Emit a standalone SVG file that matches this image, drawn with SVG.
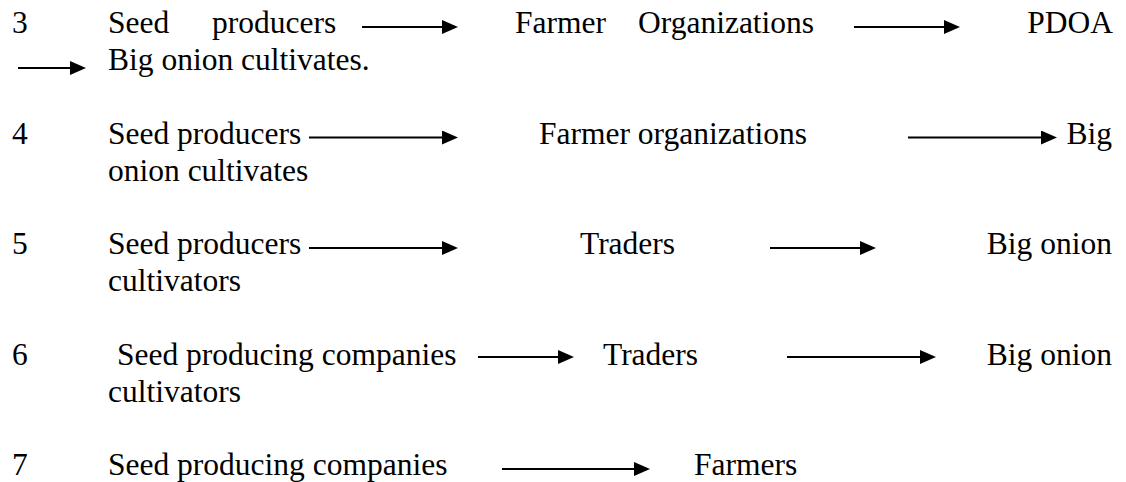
<svg xmlns="http://www.w3.org/2000/svg" width="1126" height="482" viewBox="0 0 1126 482">
  <style>
    .lbl text { font-family: 'Liberation Serif', 'Times New Roman', serif; font-size: 31.5px; fill: #000; }
    .end { text-anchor: end; }
    .conn line { stroke: #000; stroke-width: 2; marker-end: url(#head); }
  </style>
  <defs>
    <marker id="head" markerUnits="userSpaceOnUse" markerWidth="16" markerHeight="14" viewBox="0 0 16 14" refX="10" refY="7" orient="auto">
      <path d="M0,0 L16,7 L0,14 z" fill="#000"/>
    </marker>
  </defs>
  <rect width="1126" height="482" fill="#fff"/>

  <g class="lbl">
    <!-- Channel 3 -->
    <g id="n3-num"><text x="12" y="33">3</text></g>
    <g id="n3-seed"><text x="108" y="33">Seed</text><text x="212" y="33">producers</text></g>
    <g id="n3-fo"><text x="515" y="33">Farmer</text><text x="638" y="33">Organizations</text></g>
    <g id="n3-pdoa"><text class="end" x="1113" y="33">PDOA</text></g>
    <g id="n3-big"><text x="108" y="70">Big onion cultivates.</text></g>

    <!-- Channel 4 -->
    <g id="n4-num"><text x="12" y="143.5">4</text></g>
    <g id="n4-seed"><text x="108" y="143.5">Seed producers</text></g>
    <g id="n4-fo"><text x="539" y="143.5">Farmer organizations</text></g>
    <g id="n4-big"><text class="end" x="1112" y="143.5">Big</text><text x="108" y="180.5">onion cultivates</text></g>

    <!-- Channel 5 -->
    <g id="n5-num"><text x="12" y="254">5</text></g>
    <g id="n5-seed"><text x="108" y="254">Seed producers</text></g>
    <g id="n5-traders"><text x="580" y="254">Traders</text></g>
    <g id="n5-big"><text class="end" x="1112" y="254">Big onion</text><text x="108" y="291">cultivators</text></g>

    <!-- Channel 6 -->
    <g id="n6-num"><text x="12" y="364.5">6</text></g>
    <g id="n6-seed"><text x="117" y="364.5">Seed producing companies</text></g>
    <g id="n6-traders"><text x="603" y="364.5">Traders</text></g>
    <g id="n6-big"><text class="end" x="1112" y="364.5">Big onion</text><text x="108" y="401.5">cultivators</text></g>

    <!-- Channel 7 -->
    <g id="n7-num"><text x="12" y="475">7</text></g>
    <g id="n7-seed"><text x="108" y="475">Seed producing companies</text></g>
    <g id="n7-farmers"><text x="694" y="475">Farmers</text></g>
  </g>

  <!-- Flow arrows (line end sits 6px short of the arrow tip) -->
  <g id="connectors" class="conn">
    <line x1="362" y1="27" x2="452" y2="27"/>
    <line x1="854" y1="27" x2="954" y2="27"/>
    <line x1="18" y1="68" x2="80" y2="68"/>

    <line x1="309" y1="137.5" x2="452" y2="137.5"/>
    <line x1="908" y1="137.5" x2="1051" y2="137.5"/>

    <line x1="309" y1="248" x2="452" y2="248"/>
    <line x1="770" y1="248" x2="870" y2="248"/>

    <line x1="478" y1="357" x2="568" y2="357"/>
    <line x1="787" y1="357" x2="930" y2="357"/>

    <line x1="502" y1="469" x2="644" y2="469"/>
  </g>
</svg>
